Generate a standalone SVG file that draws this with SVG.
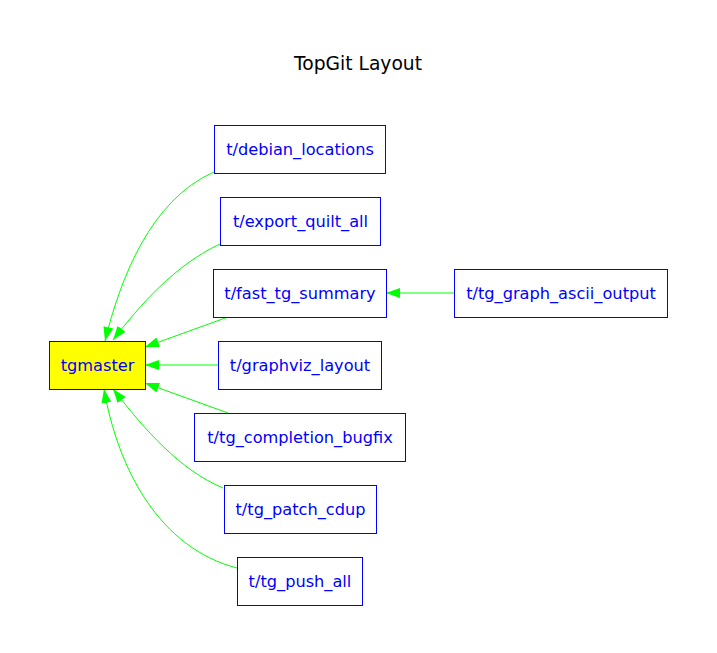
<svg xmlns="http://www.w3.org/2000/svg" width="717" height="653" viewBox="0 0 717 653">
<defs>
<marker id="ah" markerWidth="14" markerHeight="10" refX="14" refY="5" orient="auto" markerUnits="userSpaceOnUse">
<polygon points="0,0 14,5 0,10" fill="#00ff00"/>
</marker>
<style>
.n rect{fill:#ffffff;stroke:#0000ff;stroke-width:1}
.n text{font-family:"DejaVu Sans",sans-serif;font-size:16.2px;fill:#0000ff;text-anchor:middle}
.e path{fill:none;stroke:#00ff00;stroke-width:1;marker-end:url(#ah)}
</style>
</defs>
<rect width="717" height="653" fill="#ffffff"/>
<text x="358" y="70" font-family="DejaVu Sans, sans-serif" font-size="18.7" text-anchor="middle" fill="#000000">TopGit Layout</text>
<g class="e" id="edges">
<path d="M214,172 C150,200 120,280 105,341"/>
<path d="M220,244 C175,265 140,305 113,340"/>
<path d="M228,317 L145,347"/>
<path d="M218,365 L145,365"/>
<path d="M228,413 L145,383"/>
<path d="M223,488 C180,470 145,430 113,389"/>
<path d="M237,568 C160,548 118,470 104,389"/>
<path d="M454,293 L386,293"/>
</g>
<g class="n" id="tgmaster"><rect x="49.5" y="341.5" width="96" height="48" style="fill:#ffff00"/><text x="97.5" y="371">tgmaster</text></g>
<g class="n" id="debian_locations"><rect x="214.5" y="125.5" width="171" height="48"/><text x="300" y="155">t/debian_locations</text></g>
<g class="n" id="export_quilt_all"><rect x="220.5" y="197.5" width="160" height="48"/><text x="300.5" y="227">t/export_quilt_all</text></g>
<g class="n" id="fast_tg_summary"><rect x="213.5" y="269.5" width="173" height="48"/><text x="300" y="299">t/fast_tg_summary</text></g>
<g class="n" id="graphviz_layout"><rect x="218.5" y="341.5" width="163" height="48"/><text x="300" y="371">t/graphviz_layout</text></g>
<g class="n" id="tg_completion_bugfix"><rect x="194.5" y="413.5" width="211" height="48"/><text x="300" y="443">t/tg_completion_bugfix</text></g>
<g class="n" id="tg_patch_cdup"><rect x="224.5" y="485.5" width="152" height="48"/><text x="300.5" y="515">t/tg_patch_cdup</text></g>
<g class="n" id="tg_push_all"><rect x="237.5" y="557.5" width="125" height="48"/><text x="300" y="587">t/tg_push_all</text></g>
<g class="n" id="tg_graph_ascii_output"><rect x="454.5" y="269.5" width="213" height="48"/><text x="561" y="299">t/tg_graph_ascii_output</text></g>
</svg>
